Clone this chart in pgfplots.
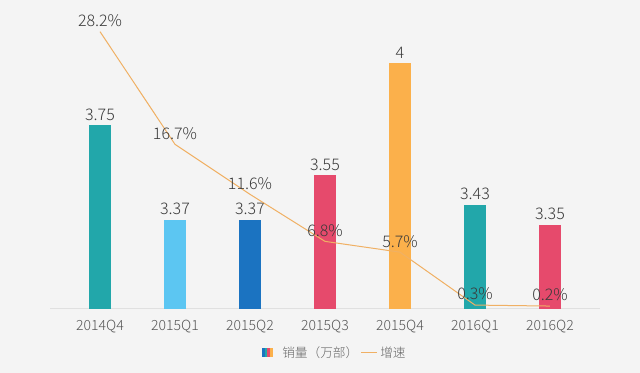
\documentclass[border=0pt]{standalone}
\usepackage{pgfplots}
\pgfplotsset{compat=1.18}
\usepackage{fontspec}
\setmainfont{Noto Sans CJK SC Light}
\definecolor{bg}{HTML}{F4F4F4}
\definecolor{cTeal}{HTML}{22A7AA}
\definecolor{cLight}{HTML}{5CC6F2}
\definecolor{cBlue}{HTML}{1B73C1}
\definecolor{cRed}{HTML}{E64A6C}
\definecolor{cOrange}{HTML}{FBB04B}
\definecolor{cLine}{HTML}{F0B064}
\definecolor{txt}{HTML}{3A3A3A}
\definecolor{tickc}{HTML}{555555}
\definecolor{legc}{HTML}{666666}
\begin{document}
\begin{tikzpicture}
\fill[bg] (0,0) rectangle (480pt,-279.75pt);
\begin{axis}[
  at={(37.5pt,-231.75pt)}, anchor=south west,
  scale only axis, width=412.5pt, height=216.75pt,
  xmin=-0.667, xmax=6.667, ymin=3.01, ymax=4.175,
  axis y line=none, axis x line*=bottom,
  x axis line style={draw=black!12, line width=0.75pt, -},
  xtick={0,1,2,3,4,5,6},
  xticklabels={2014Q4,2015Q1,2015Q2,2015Q3,2015Q4,2016Q1,2016Q2},
  major tick length=0pt,
  xticklabel style={font=\fontsize{10.5}{12}\selectfont, text=tickc, yshift=-5pt},
  ybar, bar width=16.5pt, bar shift=0pt,
  point meta=explicit symbolic, nodes near coords,
  nodes near coords style={font=\fontsize{12}{13}\selectfont, text=txt},
]
\addplot[fill=cTeal, draw=none] coordinates {(0,3.75) [3.75]};
\addplot[fill=cLight, draw=none] coordinates {(1,3.37) [3.37]};
\addplot[fill=cBlue, draw=none] coordinates {(2,3.37) [3.37]};
\addplot[fill=cRed, draw=none] coordinates {(3,3.55) [3.55]};
\addplot[fill=cOrange, draw=none] coordinates {(4,4) [4]};
\addplot[fill=cTeal, draw=none] coordinates {(5,3.43) [3.43]};
\addplot[fill=cRed, draw=none] coordinates {(6,3.35) [3.35]};
\end{axis}
\begin{axis}[
  at={(37.5pt,-231.75pt)}, anchor=south west,
  scale only axis, width=412.5pt, height=216.75pt,
  xmin=-0.667, xmax=6.667, ymin=-0.1, ymax=29.39,
  hide axis, clip=false,
]
\addplot[cLine, line width=0.75pt, mark=none,
  point meta=explicit symbolic, nodes near coords,
  nodes near coords style={font=\fontsize{12}{13}\selectfont, text=txt}]
  coordinates {(0,28.2)[28.2\%] (1,16.7)[16.7\%] (2,11.6)[11.6\%] (3,6.8)[6.8\%] (4,5.7)[5.7\%] (5,0.3)[0.3\%] (6,0.2)[0.2\%]};
\end{axis}
% legend
\fill[cBlue] (196.5pt,-261pt) rectangle (198.5pt,-267.75pt);
\fill[cTeal] (198.5pt,-261pt) rectangle (200.5pt,-267.75pt);
\fill[cRed] (200.5pt,-261pt) rectangle (202.5pt,-267.75pt);
\fill[cOrange] (202.5pt,-261pt) rectangle (204.5pt,-267.75pt);
\node[anchor=west, inner sep=0pt, font=\fontsize{9.5}{11}\selectfont, text=legc] at (211.5pt,-264.4pt) {销量（万部）};
\draw[cLine, line width=0.75pt] (270.75pt,-264.4pt) -- (282.75pt,-264.4pt);
\node[anchor=west, inner sep=0pt, font=\fontsize{9.5}{11}\selectfont, text=legc] at (285pt,-264.4pt) {增速};
\end{tikzpicture}
\end{document}
